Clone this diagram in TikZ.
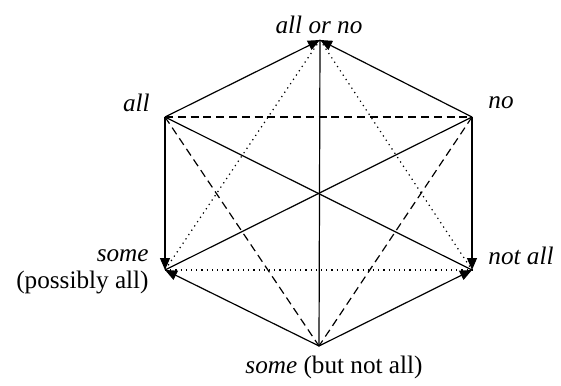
\documentclass[tikz,border=0pt]{standalone}
\usepackage{fontspec}
\setmainfont{Liberation Serif}
\usepackage{tikz}
\usetikzlibrary{arrows.meta, positioning}
\tikzset{
  >=Stealth,
  implyarrow/.style={-{Triangle[length=6pt, width=5pt]}, line width=0.6pt, black},
  plainline/.style={line width=0.6pt, black},
  contrline/.style={line width=0.6pt, black, dash pattern=on 4pt off 2.4pt},
  subline/.style={line width=0.6pt, black, dash pattern=on 0.6pt off 2pt},
  quantlabel/.style={font=\fontsize{12.6}{13.5}\selectfont, inner sep=0pt}
}
\begin{document}
\begin{tikzpicture}[x=0.5pt, y=-0.5pt]
    \useasboundingbox (0,0) rectangle (561,385);

    % --- HEXAGON CORNERS ---
    \coordinate (allorno) at (320, 40);
    \coordinate (all) at (165, 117);
    \coordinate (no) at (472, 117);
    \coordinate (some) at (165, 270);
    \coordinate (notall) at (472, 270);
    \coordinate (somenotall) at (319, 346);

    % --- LABELS ---
    \node[quantlabel] (lblallorno) at (319, 25) {\textit{all or no}};
    \node[quantlabel, anchor=east] (lblall) at (150, 103) {\textit{all}};
    \node[quantlabel, anchor=west] (lblno) at (488, 103) {\textit{no}};
    \node[quantlabel, anchor=east, align=right] (lblsome) at (149, 271.5) {\textit{some}\\(possibly all)};
    \node[quantlabel, anchor=west] (lblnotall) at (488, 256) {\textit{not all}};
    \node[quantlabel] (lblsomenotall) at (334, 367) {\textit{some} (but not all)};

    % --- CONTRARIES (dashed) ---
    \draw[contrline] (all) -- (no);
    \draw[contrline] (all) -- (somenotall);
    \draw[contrline] (no) -- (somenotall);

    % --- SUBCONTRARIES (dotted) ---
    \draw[subline] (allorno) -- (some);
    \draw[subline] (allorno) -- (notall);
    \draw[subline] (some) -- (notall);

    % --- CONTRADICTORIES ---
    \draw[plainline] (allorno) -- (somenotall);
    \draw[plainline] (all) -- (notall);
    \draw[plainline] (no) -- (some);

    % --- IMPLICATIONS ---
    \draw[implyarrow] (all) -- (allorno);
    \draw[implyarrow] (no) -- (allorno);
    \draw[implyarrow] (all) -- (some);
    \draw[implyarrow] (no) -- (notall);
    \draw[implyarrow] (somenotall) -- (some);
    \draw[implyarrow] (somenotall) -- (notall);
\end{tikzpicture}
\end{document}
